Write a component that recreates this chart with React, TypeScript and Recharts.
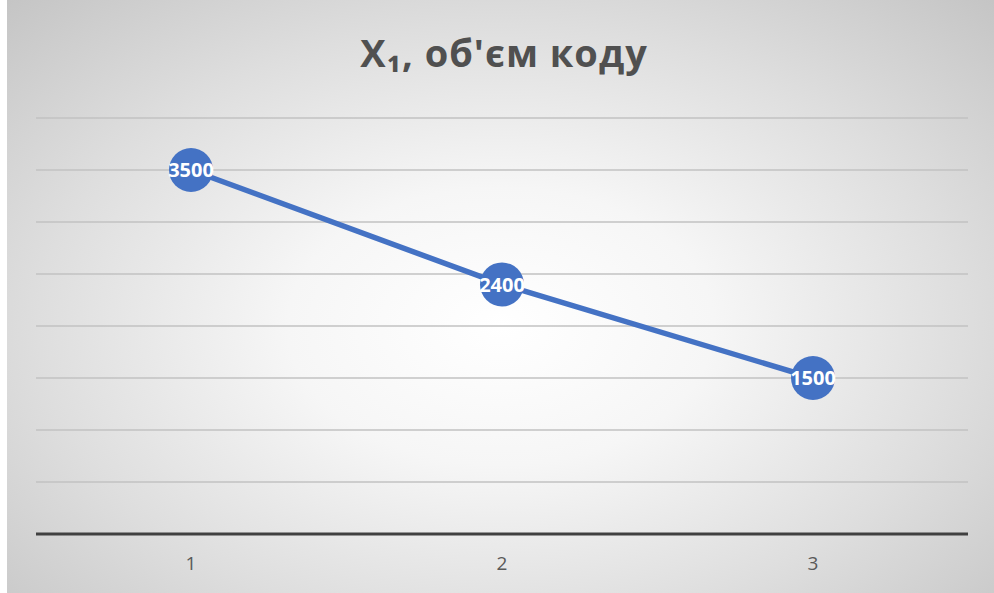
import { CartesianGrid, LabelList, Line, LineChart, XAxis, YAxis } from "recharts";

const CATEGORIES = ["1", "2", "3"];
const VOLUME = [3500, 2400, 1500];
const Y_TICKS = [0, 500, 1000, 1500, 2000, 2500, 3000, 3500, 4000];
const TITLE = "X₁, об'єм коду";

const DATA = CATEGORIES.map((c, i) => ({ cat: c, value: VOLUME[i] }));

const BLUE = "#4472c4";
const TEXT = "#595959";
const FONT = "'Open Sans', sans-serif";

export default function App() {
  return (
    <div
      style={{
        position: "fixed",
        left: 0,
        top: 0,
        width: 994,
        height: 593,
        background: "#fff",
        overflow: "hidden",
      }}
    >
      <div
        style={{
          position: "absolute",
          left: 7,
          top: 0,
          width: 987,
          height: 593,
          background:
            "radial-gradient(ellipse 72% 78% at 50% 55%, #ffffff 0%, #f6f6f6 30%, #dedede 65%, #c4c4c4 100%)",
        }}
      />
      <div
        style={{
          position: "absolute",
          left: 4,
          top: 26,
          width: 1000,
          textAlign: "center",
          fontFamily: FONT,
          fontWeight: 700,
          fontSize: 38,
          letterSpacing: 1,
          lineHeight: "normal",
          color: "#505050",
          whiteSpace: "nowrap",
        }}
      >
        {TITLE}
      </div>
      <div style={{ position: "absolute", left: 0, top: 0 }}>
        <LineChart
          width={994}
          height={593}
          data={DATA}
          margin={{ top: 118, right: 26, left: 36, bottom: 0 }}
        >
          <CartesianGrid vertical={false} stroke="#c2c2c2" strokeWidth={1.3} />
          <YAxis
            domain={[0, 4000]}
            ticks={Y_TICKS}
            width={0}
            tick={{ fill: "transparent", fontSize: 1 }}
            axisLine={false}
            tickLine={false}
          />
          <XAxis
            dataKey="cat"
            height={59}
            padding={{ left: 155, right: 155 }}
            axisLine={{ stroke: "#404040", strokeWidth: 3 }}
            tickLine={false}
            tick={{ fill: TEXT, fontSize: 19, fontFamily: FONT }}
            tickMargin={17}
          />
          <Line
            type="linear"
            dataKey="value"
            stroke={BLUE}
            strokeWidth={5.5}
            dot={{ r: 22, fill: BLUE, stroke: BLUE, strokeWidth: 0 }}
            isAnimationActive={false}
          >
            <LabelList
              dataKey="value"
              position="center"
              fill="#fff"
              fontSize={20}
              fontWeight={700}
              fontFamily={FONT}
            />
          </Line>
        </LineChart>
      </div>
    </div>
  );
}
